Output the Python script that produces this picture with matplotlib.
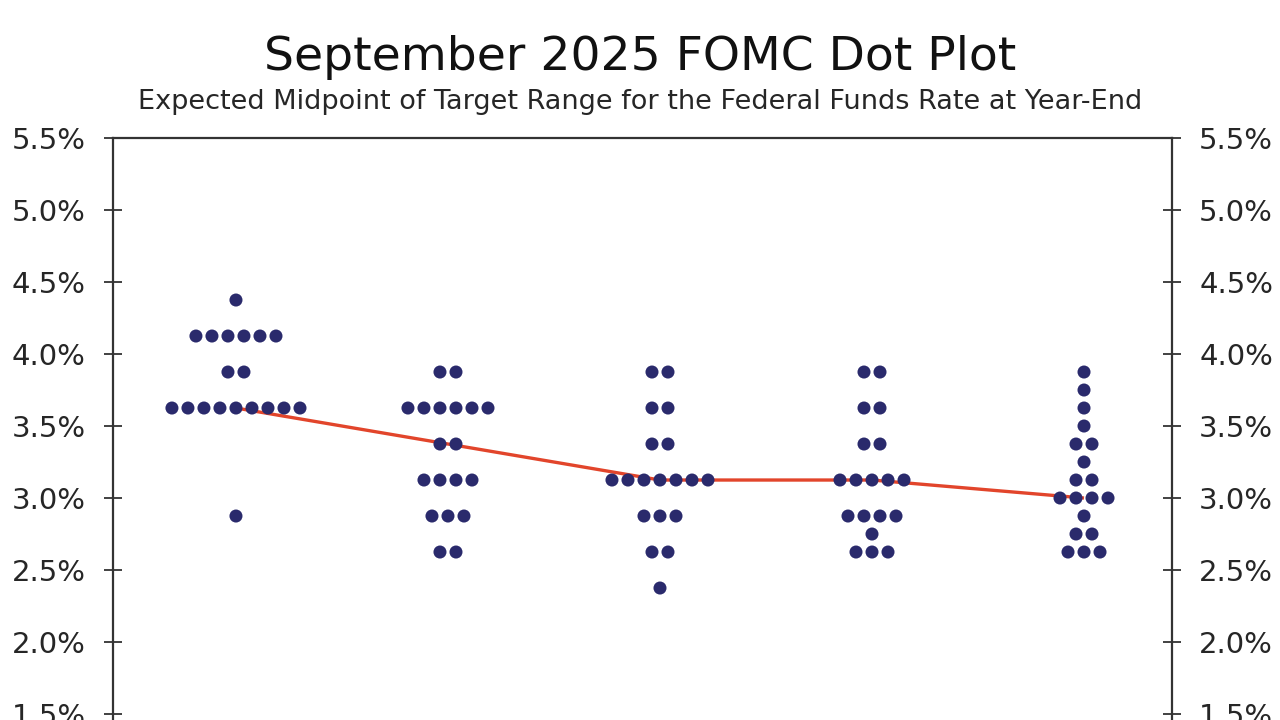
import matplotlib
matplotlib.use("Agg")
import matplotlib.pyplot as plt
import numpy as np

# Year-end projections: rate level -> number of participants
periods = ["2025", "2026", "2027", "2028", "Longer run"]
proj_2025 = {4.375: 1, 4.125: 6, 3.875: 2, 3.625: 9, 2.875: 1}
proj_2026 = {3.875: 2, 3.625: 6, 3.375: 2, 3.125: 4, 2.875: 3, 2.625: 2}
proj_2027 = {3.875: 2, 3.625: 2, 3.375: 2, 3.125: 7, 2.875: 3, 2.625: 2, 2.375: 1}
proj_2028 = {3.875: 2, 3.625: 2, 3.375: 2, 3.125: 5, 2.875: 4, 2.75: 1, 2.625: 3}
proj_longer = {3.875: 1, 3.75: 1, 3.625: 1, 3.5: 1, 3.375: 2, 3.25: 1,
               3.125: 2, 3.0: 4, 2.875: 1, 2.75: 2, 2.625: 3}
projections = [proj_2025, proj_2026, proj_2027, proj_2028, proj_longer]
y_ticks = [1.5, 2.0, 2.5, 3.0, 3.5, 4.0, 4.5, 5.0, 5.5]

DOT_COLOR = "#2a2a6c"
LINE_COLOR = "#e2452b"
AXIS_COLOR = "#333333"
TEXT_COLOR = "#262626"
DOT_STEP = 0.0755  # horizontal gap between neighbouring dots (x units)


def median_of(counts):
    vals = []
    for rate, n in counts.items():
        vals.extend([rate] * n)
    return float(np.median(vals))


fig = plt.figure(figsize=(12.8, 7.2), dpi=100)
ax = fig.add_axes([113 / 1280, 0.8083 - 0.9, 1059 / 1280, 0.9])

xs = np.arange(1, len(periods) + 1)
medians = [median_of(p) for p in projections]

ax.plot(xs, medians, color=LINE_COLOR, lw=2.4, zorder=2, solid_capstyle="butt")

for x, counts in zip(xs, projections):
    for rate, n in counts.items():
        offsets = (np.arange(n) - (n - 1) / 2) * DOT_STEP
        ax.scatter(x + offsets, [rate] * n, s=88, color=DOT_COLOR,
                   edgecolors="none", zorder=3)

ax.set_xlim(0.42, 5.415)
ax.set_ylim(1.0, 5.5)
# period labels sit below the visible frame
ax.set_xticks(xs)
ax.set_xticklabels([])
ax.set_yticks(y_ticks)
ax.set_yticklabels([f"{v:.1f}%" for v in y_ticks])

for side in ["left", "right", "top"]:
    ax.spines[side].set_color(AXIS_COLOR)
    ax.spines[side].set_linewidth(1.6)
ax.spines["bottom"].set_visible(False)

ax.tick_params(axis="y", which="both", direction="inout", length=13, width=1.3,
               color=AXIS_COLOR, labelsize=21, labelcolor=TEXT_COLOR, pad=13,
               left=True, right=True, labelleft=True, labelright=True)
ax.tick_params(axis="x", length=0)

fig.text(0.5, 1 - 58 / 720, "September 2025 FOMC Dot Plot", ha="center",
         va="center", fontsize=34, color="#111111")
fig.text(0.5, 1 - 102 / 720,
         "Expected Midpoint of Target Range for the Federal Funds Rate at Year-End",
         ha="center", va="center", fontsize=19.5, color=TEXT_COLOR)

fig.savefig("out.png", dpi=100, facecolor="white")
